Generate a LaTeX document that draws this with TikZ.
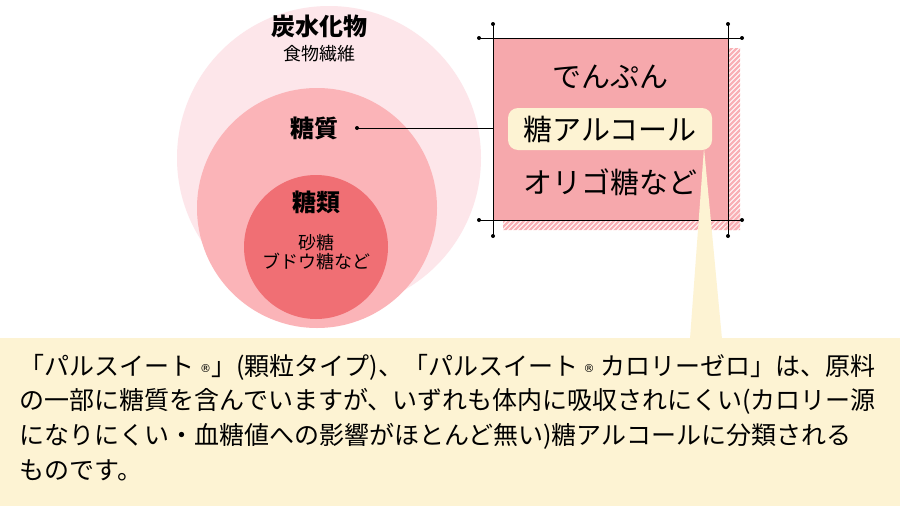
\documentclass[tikz,border=0pt]{standalone}
\usepackage{fontspec}
\setmainfont{Noto Sans CJK JP}
\definecolor{c1}{HTML}{FDE6EA}
\definecolor{c2}{HTML}{FBB4B8}
\definecolor{c3}{HTML}{F06F74}
\definecolor{boxc}{HTML}{F6A8AC}
\definecolor{cream}{HTML}{FDF3D3}
\definecolor{hatch}{HTML}{F9B0B5}
\newfontfamily\symf{DejaVu Sans}
\newcommand{\regm}{\raisebox{3pt}{\symf\fontsize{11}{12}\selectfont ®}}
\tikzset{x=1pt,y=-1pt,
 dotend/.style={black,line width=0.8pt},
 big/.style={font=\fontsize{29}{32}\selectfont},
 lbl/.style={font=\fontsize{24}{28}\selectfont\bfseries},
 small/.style={font=\fontsize{18}{23}\selectfont}}
\begin{document}
\begin{tikzpicture}
\useasboundingbox (0,0) rectangle (900,506);
\fill[white] (0,0) rectangle (900,506);
% circles
\fill[c1] (329,158) circle (152);
\fill[c2] (317,208) circle (120);
\fill[c3] (316,247) circle (72);
\node[lbl] (tansui) at (319,26) {炭水化物};
\node[small] (fiber) at (319,54) {食物繊維};
\node[lbl] (toshitsu) at (314,128) {糖質};
\node[lbl] (torui) at (316,202) {糖類};
\node[small,align=center] (sato) at (316,252) {砂糖\\[-4pt]ブドウ糖など};
% hatch strip
\begin{scope}
\clip (728,48) rectangle (740,230) (503,220) rectangle (740,230);
\foreach \k in {0,...,60}{
  \draw[hatch,line width=2.2pt] (480+\k*5,240) -- ++(30,-30);
  \draw[hatch,line width=2.2pt] (725,240-\k*5) -- ++(20,-20);}
\end{scope}
% box
\node[draw=black,line width=1pt,fill=boxc,minimum width=235,minimum height=182,anchor=north west,inner sep=0] (box) at (493,38) {};
\foreach \xx in {493,728}{
  \draw[dotend] (\xx,24) -- (\xx,236);
  \fill (\xx,24) circle (2); \fill (\xx,236) circle (2);}
\foreach \yy in {38,220}{
  \draw[dotend] (479,\yy) -- (742,\yy);
  \fill (479,\yy) circle (2); \fill (742,\yy) circle (2);}
% connector
\coordinate (dot) at (357,128);
\fill (dot) circle (2);
\draw[line width=0.8pt] (dot) -- (box.west |- dot);
% panel and callout
\fill[cream] (0,338) rectangle (900,506);
\fill[cream] (704,148) -- (690,339) -- (722,339) -- cycle;
\node[fill=cream,rounded corners=10pt,minimum width=204,minimum height=42,inner sep=0] (alc) at (610,129) {};
\node[big] (t1) at (610,77) {でんぷん};
\node[big] (t2) at (610,129) {糖アルコール};
\node[big] (t3) at (610,182) {オリゴ糖など};
% bottom text
\begin{scope}[every node/.style={anchor=west,font=\fontsize{25}{26}\selectfont}]
\node (l1) at (16,367) {「パルスイート \regm」(顆粒タイプ)、「パルスイート \regm\ カロリーゼロ」は、原料};
\node (l2) at (16,401) {の一部に糖質を含んでいますが、いずれも体内に吸収されにくい(カロリー源};
\node (l3) at (16,436) {になりにくい・血糖値への影響がほとんど無い)糖アルコールに分類される};
\node (l4) at (16,470) {ものです。};
\end{scope}
\end{tikzpicture}
\end{document}
